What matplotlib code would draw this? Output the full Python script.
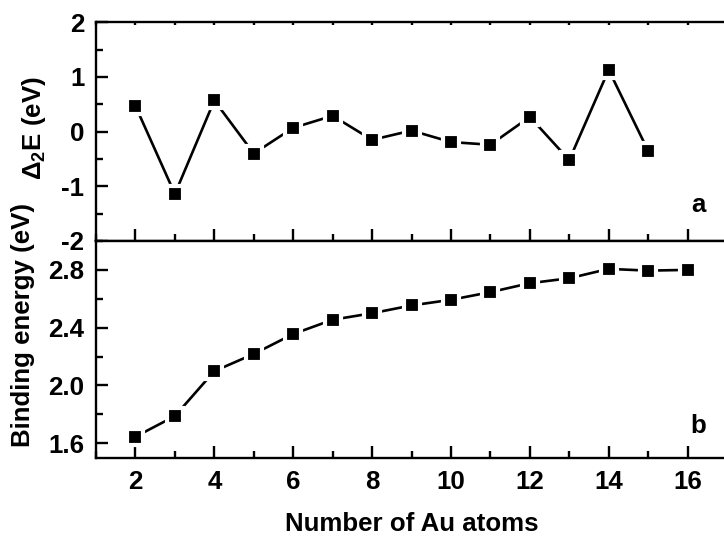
import matplotlib
matplotlib.use("Agg")
import matplotlib.pyplot as plt
from matplotlib.ticker import MultipleLocator, FormatStrFormatter, FuncFormatter

# ---- data ----
atoms_a = [2, 3, 4, 5, 6, 7, 8, 9, 10, 11, 12, 13, 14, 15]
delta2E = [0.47, -1.14, 0.57, -0.40, 0.07, 0.29, -0.15, 0.02, -0.19, -0.24, 0.27, -0.52, 1.13, -0.35]

atoms_b = [2, 3, 4, 5, 6, 7, 8, 9, 10, 11, 12, 13, 14, 15, 16]
binding = [1.645, 1.788, 2.099, 2.218, 2.356, 2.455, 2.50, 2.554, 2.593, 2.646, 2.708, 2.742, 2.807, 2.795, 2.80]

xlabel = "Number of Au atoms"
ylabel_a = r"$\mathbf{\Delta_2}$E (eV)"
ylabel_b = "Binding energy (eV)"

plt.rcParams['font.family'] = ['Liberation Sans', 'DejaVu Sans']
plt.rcParams['font.weight'] = 'bold'
plt.rcParams['mathtext.fontset'] = 'custom'
plt.rcParams['mathtext.rm'] = 'Liberation Sans:bold'
plt.rcParams['mathtext.bf'] = 'Liberation Sans:bold'
plt.rcParams['mathtext.it'] = 'Liberation Sans:bold'
plt.rcParams['axes.unicode_minus'] = False

FS = 18.6
W, H = 724, 543
fig = plt.figure(figsize=(W / 100, H / 100), dpi=100)

left = 96 / W
width = 631 / W
ax1 = fig.add_axes([left, 1 - 241 / H, width, 218.7 / H])
ax2 = fig.add_axes([left, 1 - 457.7 / H, width, 216.7 / H])

mk = dict(marker='s', markersize=11.6, markerfacecolor='black',
          markeredgecolor='white', markeredgewidth=3.0, color='black',
          linewidth=1.9, clip_on=False)

ax1.plot(atoms_a, delta2E, **mk)
ax2.plot(atoms_b, binding, **mk)

for ax in (ax1, ax2):
    ax.set_xlim(1, 17)
    ax.xaxis.set_major_locator(MultipleLocator(2))
    ax.xaxis.set_minor_locator(MultipleLocator(1))
    for s in ax.spines.values():
        s.set_linewidth(1.7)
    ax.tick_params(axis='both', which='major', direction='in', length=8.8, width=1.7,
                   labelsize=FS)
    ax.tick_params(axis='both', which='minor', direction='in', length=5.0, width=1.7)
    ax.tick_params(axis='y', which='both', left=True, right=False, pad=8.4)

ax1.set_ylim(-2, 2)
ax1.yaxis.set_major_locator(MultipleLocator(1))
ax1.yaxis.set_minor_locator(MultipleLocator(0.5))
ax1.yaxis.set_major_formatter(FuncFormatter(lambda v, p: "%d" % round(v)))
ax1.tick_params(axis='x', which='both', bottom=True, top=True, labelbottom=False)
# tiny ticks on top spine
for t in ax1.xaxis.get_major_ticks() + ax1.xaxis.get_minor_ticks():
    t.tick2line.set_markersize(2.0)

ax2.set_ylim(1.5, 3.0)
ax2.yaxis.set_major_locator(MultipleLocator(0.4))
ax2.yaxis.set_minor_locator(MultipleLocator(0.2))
ax2.yaxis.set_major_formatter(FormatStrFormatter("%.1f"))
ax2.tick_params(axis='x', which='both', bottom=True, top=False, pad=9.0)

for ax in (ax1, ax2):
    for lab in ax.get_xticklabels() + ax.get_yticklabels():
        lab.set_fontweight('bold')

ax1.text(0.954, 0.133, "a", transform=ax1.transAxes, ha='center', va='baseline',
         fontsize=FS, fontweight='bold')
ax2.text(0.954, 0.114, "b", transform=ax2.transAxes, ha='center', va='baseline',
         fontsize=FS, fontweight='bold')

fig.text(34 / W, 1 - 128 / H, ylabel_a, rotation=90, ha='center', va='center',
         fontsize=FS, fontweight='bold')
fig.text(23 / W, 1 - 325 / H, ylabel_b, rotation=90, ha='center', va='center',
         fontsize=FS, fontweight='bold')
fig.text(412 / W, 1 - 524 / H, xlabel, ha='center', va='center',
         fontsize=FS, fontweight='bold')

fig.savefig("out.png", dpi=100)
